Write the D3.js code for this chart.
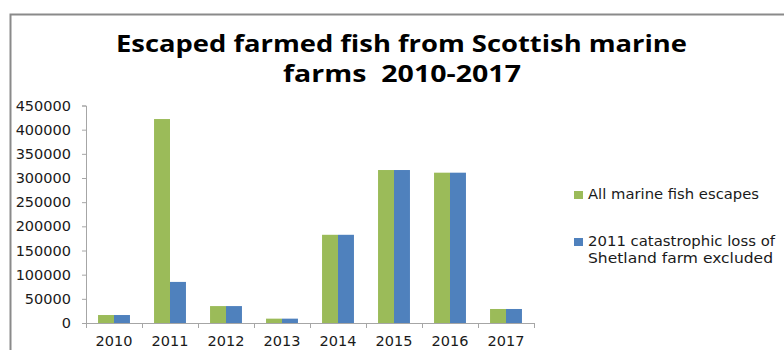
<!DOCTYPE html>
<html>
<head>
<meta charset="utf-8">
<script src="https://cdn.jsdelivr.net/npm/d3@7"></script>
<style>
  body { margin: 0; background: #fff; }
  svg { display: block; }
</style>
</head>
<body>
<div class="canvas"></div>
<script>
const years = ['2010', '2011', '2012', '2013', '2014', '2015', '2016', '2017'];
const allEscapes = [16500, 422000, 35000, 9000, 182500, 316500, 311000, 29000];
const excludingShetland = [16500, 85000, 35000, 9000, 182500, 316500, 311000, 29000];
const seriesNames = ['All marine fish escapes', '2011 catastrophic loss of\nShetland farm excluded'];
const yTicks = [0, 50000, 100000, 150000, 200000, 250000, 300000, 350000, 400000, 450000];

const width = 784;
const height = 350;
const margin = { top: 105.5, left: 86, right: 250, bottom: 27 };
const graphWidth = width - margin.left - margin.right;
const graphHeight = height - margin.top - margin.bottom;

const svg = d3.select('.canvas')
    .append('svg')
    .attr('width', width)
    .attr('height', height)
;

// outer chart frame
svg.append('rect')
    .attr('x', 10.5)
    .attr('y', 14.5)
    .attr('width', 800)
    .attr('height', 400)
    .attr('fill', 'none')
    .attr('stroke', '#8a8a8a')
    .attr('stroke-width', 2)
;

// title
const titleLines = [
    { text: 'Escaped farmed fish from Scottish marine', x: 116, y: 52, len: 571 },
    { text: 'farms  2010-2017', x: 283, y: 82, len: 238 }
];
svg.selectAll('text.title')
    .data(titleLines)
    .enter()
    .append('text')
        .attr('class', 'title')
        .attr('x', d => d.x)
        .attr('y', d => d.y)
        .attr('textLength', d => d.len)
        .attr('lengthAdjust', 'spacingAndGlyphs')
        .attr('font-family', 'Open Sans, sans-serif')
        .attr('font-weight', 'bold')
        .attr('font-size', 23.5)
        .attr('fill', '#000')
        .style('white-space', 'pre')
        .text(d => d.text)
;

const graph = svg.append('g')
    .attr('transform', `translate(${margin.left}, ${margin.top})`)
;

// scales
const x0 = d3.scaleBand().domain(years).range([0, graphWidth]).paddingInner(0.43).paddingOuter(0.215);
const x = d3.scaleBand().domain(years).range([0, graphWidth]);
const y = d3.scaleLinear().domain([0, 450000]).range([graphHeight, 0]);

const series = [
    { name: seriesNames[0], values: allEscapes, color: '#9bbb59' },
    { name: seriesNames[1], values: excludingShetland, color: '#4f81bd' }
];
const x1 = d3.scaleBand().domain([0, 1]).range([0, x0.bandwidth()]);

// axes
const yAxis = d3.axisLeft(y).tickValues(yTicks).tickSize(4).tickPadding(11).tickFormat(d3.format('d'));
const yAxisGroup = graph.append('g').attr('class', 'y-axis').call(yAxis);

const xAxis = d3.axisBottom(x).tickSize(0).tickPadding(20);
const xAxisGroup = graph.append('g')
    .attr('class', 'x-axis')
    .attr('transform', `translate(0, ${graphHeight})`)
    .call(xAxis)
;

// ticks between categories
xAxisGroup.selectAll('line.sep')
    .data(d3.range(years.length + 1))
    .enter()
    .append('line')
        .attr('class', 'sep')
        .attr('x1', i => i * x.step() + 0.5)
        .attr('x2', i => i * x.step() + 0.5)
        .attr('y1', 0)
        .attr('y2', 5)
        .attr('stroke', '#a6a6a6')
;

[yAxisGroup, xAxisGroup].forEach(g => {
    g.selectAll('.domain').attr('stroke', '#a6a6a6');
    g.selectAll('.tick line').attr('stroke', '#a6a6a6');
    g.selectAll('text')
        .attr('font-family', 'DejaVu Sans, sans-serif')
        .attr('fill', '#1a1a1a');
});
yAxisGroup.selectAll('text').attr('font-size', 14.5);
xAxisGroup.selectAll('text').attr('font-size', 14.5).attr('dy', '0.2em');

// bars
series.forEach((s, i) => {
    graph.selectAll(`rect.s${i}`)
        .data(years.map((yr, j) => ({ year: yr, value: s.values[j] })))
        .enter()
        .append('rect')
            .attr('class', `s${i}`)
            .attr('x', d => x0(d.year) + x1(i))
            .attr('y', d => y(d.value))
            .attr('width', x1.bandwidth())
            .attr('height', d => graphHeight - y(d.value))
            .attr('fill', s.color)
    ;
});

// legend
const legendItems = [
    { color: series[0].color, sy: 191, lines: [{ t: 'All marine fish escapes', y: 199, len: 171 }] },
    { color: series[1].color, sy: 238, lines: [
        { t: '2011 catastrophic loss of', y: 246, len: 187 },
        { t: 'Shetland farm excluded', y: 263, len: 185 }
    ] }
];
const legend = svg.append('g').attr('class', 'legend');
legendItems.forEach(item => {
    legend.append('rect')
        .attr('x', 574)
        .attr('y', item.sy)
        .attr('width', 9)
        .attr('height', 8)
        .attr('fill', item.color)
    ;
    item.lines.forEach(l => {
        legend.append('text')
            .attr('x', 588)
            .attr('y', l.y)
            .attr('textLength', l.len)
            .attr('lengthAdjust', 'spacingAndGlyphs')
            .attr('font-family', 'DejaVu Sans, sans-serif')
            .attr('font-size', 13.5)
            .attr('fill', '#1a1a1a')
            .text(l.t)
        ;
    });
});
</script>
</body>
</html>
